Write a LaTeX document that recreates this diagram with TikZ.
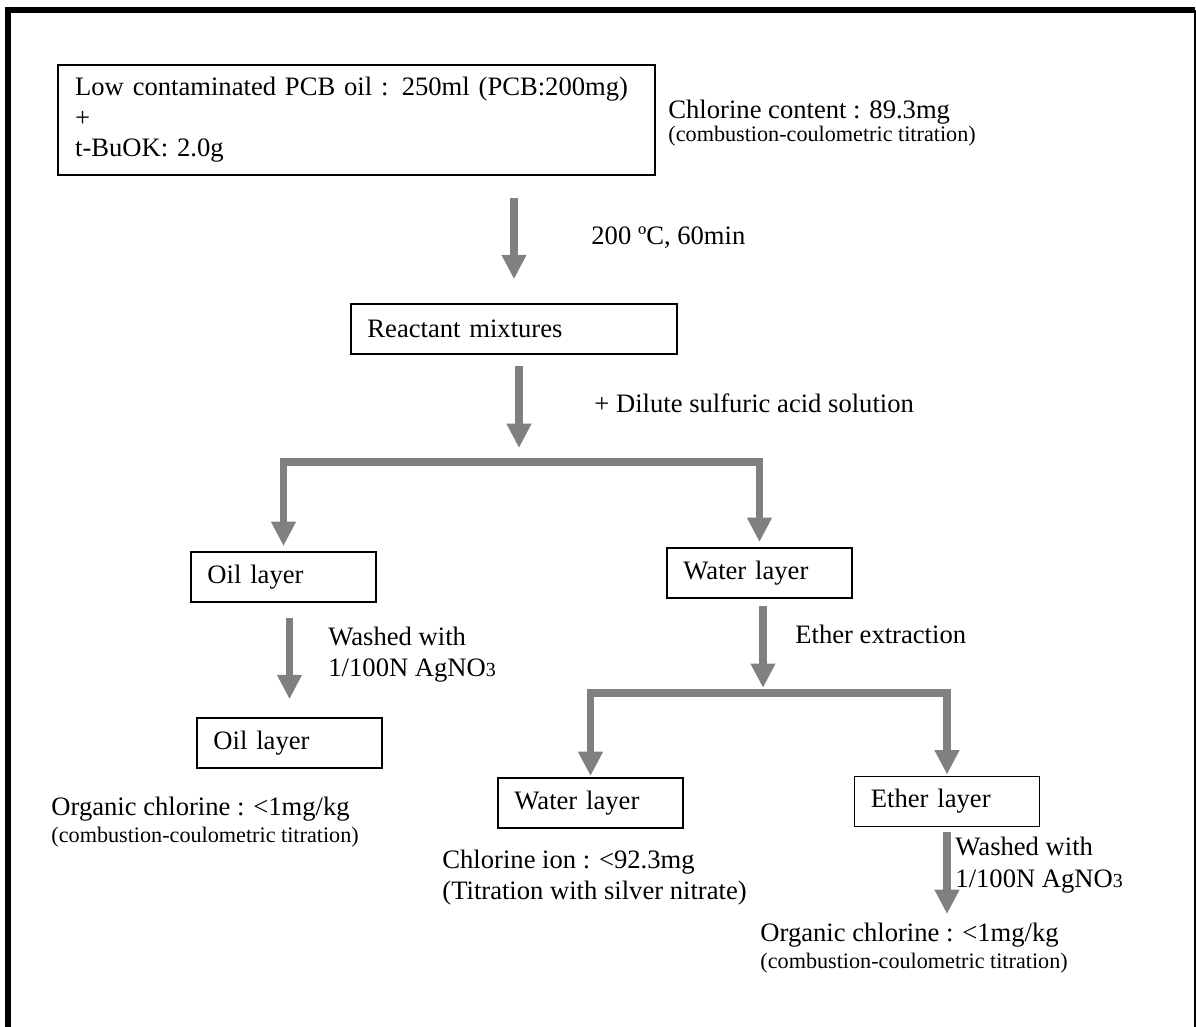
\documentclass[tikz,border=0pt]{standalone}
\usepackage{fontspec}
\setmainfont{Liberation Serif}
\usepackage{xcolor}
\usepackage{tikz}
\usetikzlibrary{arrows.meta, calc}
\definecolor{flowgray}{HTML}{808080}

\begin{document}
\begin{tikzpicture}[x=0.451pt, y=-0.451pt,
        font=\fontsize{12}{13.8}\selectfont,
        box/.style={draw, line width=0.8pt, minimum height=22.5pt, inner xsep=7.4pt,
          text width=68.6pt, align=left},
        note/.style={anchor=base west, inner sep=0pt},
        small/.style={note, font=\fontsize{10}{12}\selectfont},
        arr/.style={-{Triangle[length=11pt,width=10.5pt]}, draw=flowgray, line width=3.3pt}]
        \useasboundingbox (0,0) rectangle (1196,1027);
        % frame
        \draw[line width=2.7pt] (8,1027) -- (8,10) -- (1195,10);
        \draw[line width=0.6pt] (1195,10) -- (1195,1027);
        % boxes
        \node[box, text width=253.8pt, inner xsep=7.7pt, minimum height=49.6pt] (feed) at (356.5,120)
          {Low contaminated PCB oil : 250ml (PCB:200mg)\\ +\\ t-BuOK: 2.0g};
        \node[box, text width=132.2pt] (react) at (514,329) {Reactant mixtures};
        \node[box] (oil1) at (283.5,577) {Oil layer};
        \node[box] (water1) at (759.5,573) {Water layer};
        \node[box] (oil2) at (289.5,743) {Oil layer};
        \node[box] (water2) at (590.5,803) {Water layer};
        \node[box] (ether) at (947,801.5) {Ether layer};
        % split points
        \coordinate (split1) at (519,462);
        \coordinate (split2) at (763,693);
        % labels
        \node[note] (chl) at (668,119) {Chlorine content : 89.3mg};
        \node[small] (chlm) at (668,142) {(combustion-coulometric titration)};
        \node[note] (heat) at (591,245) {200 ºC, 60min};
        \node[note] (acid) at (594,412) {+ Dilute sulfuric acid solution};
        \node[note] (washa) at (328,645) {Washed with};
        \node[note] (washb) at (328,676) {1/100N AgNO{\fontsize{9}{9}\selectfont 3}};
        \node[note] (extr) at (795,643) {Ether extraction};
        \node[note] (orga) at (51,815) {Organic chlorine : <1mg/kg};
        \node[small] (orgm) at (51,842) {(combustion-coulometric titration)};
        \node[note] (ion) at (442,868) {Chlorine ion : <92.3mg};
        \node[note] (ionm) at (442,899) {(Titration with silver nitrate)};
        \node[note] (wash2a) at (955,855) {Washed with};
        \node[note] (wash2b) at (955,887) {1/100N AgNO{\fontsize{9}{9}\selectfont 3}};
        \node[note] (org2) at (760,941) {Organic chlorine : <1mg/kg};
        \node[small] (org2m) at (760,968) {(combustion-coulometric titration)};
        % arrows
        \draw[arr, shorten <=9.9pt, shorten >=10.8pt] (react.north |- feed.south) -- (react.north);
        \draw[arr, shorten <=5pt, shorten >=6.3pt] (split1 |- react.south) -- (split1);
        \draw[arr, shorten >=2.3pt] (split1) -| (oil1.north);
        \draw[arr, shorten >=2.3pt] (split1) -| (water1.north);
        \draw[arr, shorten <=6.8pt, shorten >=8.1pt] (oil2.north |- oil1.south) -- (oil2.north);
        \draw[arr, shorten <=3.2pt, shorten >=2.3pt] (split2 |- water1.south) -- (split2);
        \draw[arr, shorten >=0.5pt] (split2) -| (water2.north);
        \draw[arr, shorten >=0.5pt] (split2) -| (ether.north);
        \draw[arr, shorten <=2.3pt, shorten >=3.6pt] (ether.south) -- (ether.south |- org2.north);
      \end{tikzpicture}
\end{document}
